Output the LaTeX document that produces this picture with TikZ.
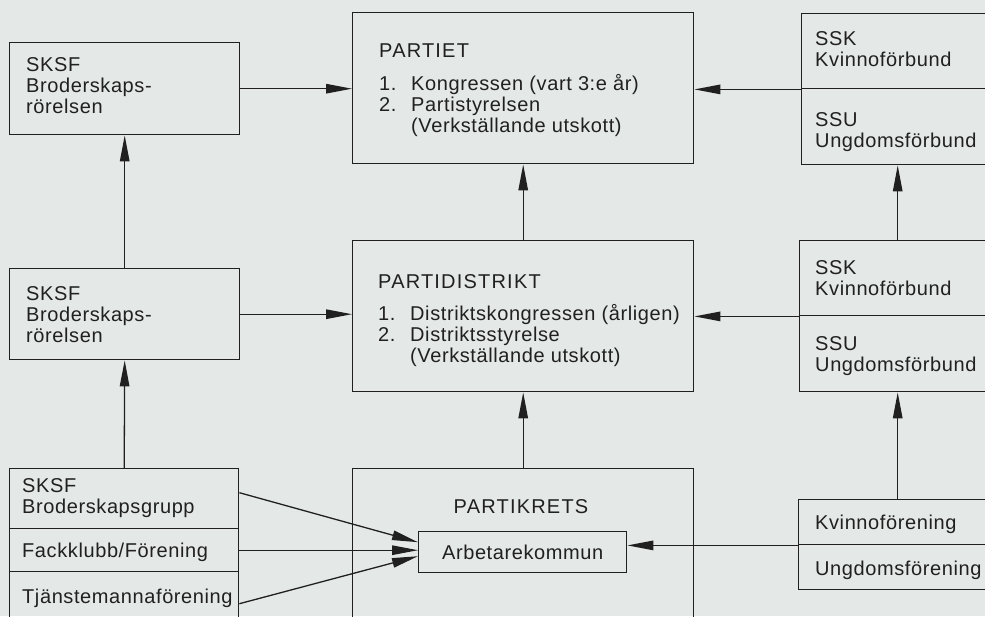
\documentclass[tikz,border=0pt]{standalone}
\usepackage{fontspec}
\setmainfont{Liberation Sans}[LetterSpace=3]
\newfontfamily\titlefont{Liberation Sans}[LetterSpace=6]
\usetikzlibrary{positioning}
\usetikzlibrary{arrows.meta}

\definecolor{paper}{RGB}{228,232,231}
\definecolor{ink}{RGB}{32,32,32}

\newcommand{\rows}[1]{\begin{tabular}[t]{@{}l@{}}#1\end{tabular}}
\newcommand{\nr}[1]{\makebox[32pt][l]{#1}}

\tikzset{
  box/.style={draw=ink,line width=1.4pt,anchor=north west,inner sep=0pt,text=ink,font=\fontsize{20}{21}\selectfont},
  txt/.style={anchor=base west,inner sep=0pt,text=ink,font=\fontsize{20}{21}\selectfont},
  ttl/.style={txt,font=\fontsize{20}{21}\selectfont\titlefont},
  arr/.style={draw=ink,line width=1.3pt,-{Triangle[length=26pt,width=9.5pt]}}
}

\begin{document}
\begin{tikzpicture}[x=1pt,y=-1pt]
\useasboundingbox (0,0) rectangle (985,616);
\clip (0,0) rectangle (985,616);
\fill[paper] (0,0) rectangle (985,616);

% left column
\node[box,minimum width=230pt,minimum height=92pt] (sksfa) at (9,42) {};
\node[box,minimum width=230pt,minimum height=91pt] (sksfb) at (9,268) {};
\node[box,minimum width=229pt,minimum height=60pt] (grupp) at (9,468) {};
\node[box,minimum width=229pt,minimum height=43pt] (fack) at (9,528) {};
\node[box,minimum width=229pt,minimum height=60pt] (tjm) at (9,571) {};

\node[txt] (sksfa-t) at (26,71) {\rows{SKSF\\Broderskaps-\\rörelsen}};
\node[txt] (sksfb-t) at (26,300) {\rows{SKSF\\Broderskaps-\\rörelsen}};
\node[txt] (grupp-t) at (22,492) {\rows{SKSF\\Broderskapsgrupp}};
\node[txt] (fack-t) at (22,557) {Fackklubb/Förening};
\node[txt] (tjm-t) at (22,603) {Tjänstemannaförening};

% middle column
\node[box,minimum width=341pt,minimum height=151pt] (partiet) at (352,12) {};
\node[box,minimum width=341pt,minimum height=151pt] (pdist) at (352,240) {};
\node[box,minimum width=341pt,minimum height=170pt] (pkrets) at (352,468) {};
\node[box,minimum width=208pt,minimum height=41pt] (arbk) at (418,531) {Arbetarekommun};

\node[ttl] (partiet-t) at (379,57) {PARTIET};
\node[txt] (partiet-l) at (379,90) {\rows{\nr{1.}Kongressen (vart 3:e år)\\\nr{2.}Partistyrelsen\\\nr{}(Verkställande utskott)}};
\node[ttl] (pdist-t) at (378,288) {PARTIDISTRIKT};
\node[txt] (pdist-l) at (378,320) {\rows{\nr{1.}Distriktskongressen (årligen)\\\nr{2.}Distriktsstyrelse\\\nr{}(Verkställande utskott)}};
\node[ttl,anchor=base] (pkrets-t) at (521,513) {PARTIKRETS};

% right column
\node[box,minimum width=194pt,minimum height=75pt] (sska) at (801,13) {};
\node[box,minimum width=194pt,minimum height=76pt] (ssua) at (801,88) {};
\node[box,minimum width=196pt,minimum height=75pt] (sskb) at (799,240) {};
\node[box,minimum width=196pt,minimum height=76pt] (ssub) at (799,315) {};
\node[box,minimum width=198pt,minimum height=45pt] (kvf) at (798,499) {};
\node[box,minimum width=198pt,minimum height=45pt] (ungf) at (798,544) {};

\node[txt] (sska-t) at (815,45) {\rows{SSK\\Kvinnoförbund}};
\node[txt] (ssua-t) at (815,126) {\rows{SSU\\Ungdomsförbund}};
\node[txt] (sskb-t) at (815,274) {\rows{SSK\\Kvinnoförbund}};
\node[txt] (ssub-t) at (815,350) {\rows{SSU\\Ungdomsförbund}};
\node[txt] (kvf-t) at (815,529) {Kvinnoförening};
\node[txt] (ungf-t) at (815,575) {Ungdomsförening};

% arrows
\draw[arr] (sksfa.east) -- (sksfa.east -| partiet.west);
\draw[arr] (sksfb.east) -- (sksfb.east -| pdist.west);
\draw[arr] (sksfb.north) -- (sksfa.south);
\draw[arr] (grupp.north) -- (sksfb.south);
\draw[arr] (pdist.north) -- (partiet.south);
\draw[arr] (pkrets.north) -- (pdist.south);
\draw[arr] (sska.south west) -- (sska.south west -| partiet.east);
\draw[arr] (sskb.south west) -- (sskb.south west -| pdist.east);
\draw[arr] (sskb.north) -- (sskb.north |- ssua.south);
\draw[arr] (kvf.north) -- (kvf.north |- ssub.south);
\draw[arr] (kvf.south west) -- (kvf.south west -| arbk.east);
\draw[arr] ([yshift=6pt]grupp.east) -- ([yshift=10pt]arbk.west);
\draw[arr] (fack.east) -- ([yshift=2pt]arbk.west);
\draw[arr] ([yshift=-2pt]tjm.east) -- ([yshift=-4pt]arbk.west);
\end{tikzpicture}
\end{document}
